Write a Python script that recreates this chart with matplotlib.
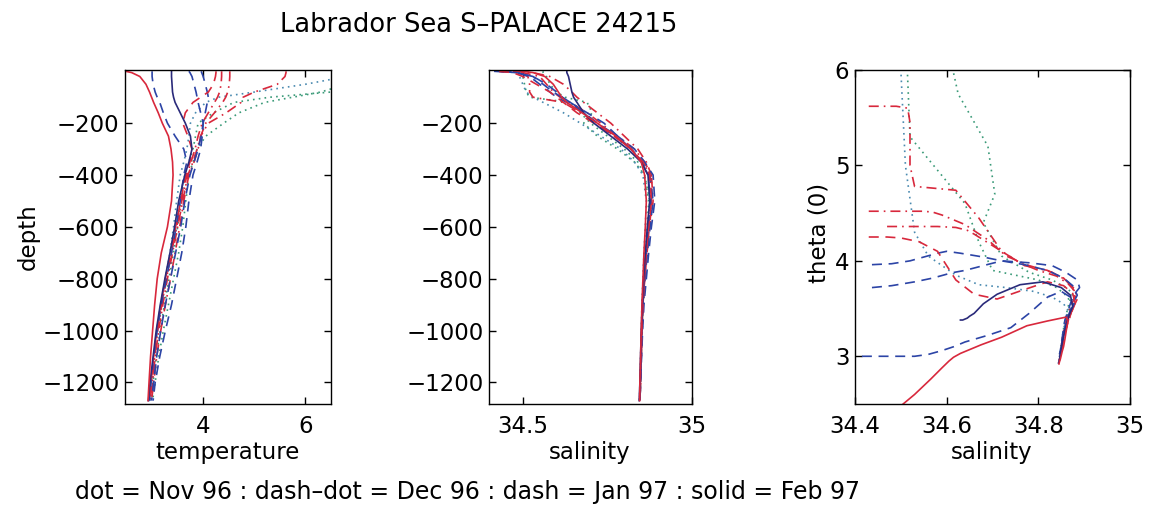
import matplotlib
matplotlib.use('Agg')
import matplotlib.pyplot as plt
from matplotlib.ticker import FuncFormatter

# ---------------- data ----------------
depth = [0, -5, -20, -50, -80, -100, -120, -160, -200, -250, -300, -350, -400,
         -500, -600, -700, -800, -900, -1000, -1100, -1200, -1270]

# Nov 96 (dotted)
temp_nov1 = [7.00, 7.00, 6.95, 6.80, 6.50, 5.30, 4.60, 4.20, 3.90, 3.85, 3.80, 3.72, 3.64,
             3.56, 3.50, 3.42, 3.33, 3.24, 3.16, 3.08, 3.02, 2.98]
sal_nov1 = [34.50, 34.50, 34.50, 34.505, 34.51, 34.52, 34.64, 34.67, 34.70, 34.75, 34.80, 34.84, 34.86,
            34.872, 34.868, 34.862, 34.858, 34.855, 34.852, 34.85, 34.848, 34.846]
temp_nov2 = [7.20, 7.20, 7.10, 6.80, 6.30, 5.75, 5.20, 4.70, 4.40, 4.05, 3.88, 3.80, 3.72,
             3.66, 3.60, 3.52, 3.42, 3.32, 3.22, 3.13, 3.06, 3.01]
sal_nov2 = [34.56, 34.56, 34.57, 34.58, 34.60, 34.625, 34.69, 34.705, 34.68, 34.72, 34.78, 34.83, 34.86,
            34.875, 34.87, 34.865, 34.86, 34.856, 34.853, 34.85, 34.848, 34.846]
temp_nov3 = [7.00, 7.00, 6.80, 6.00, 5.00, 4.30, 4.05, 3.85, 3.75, 3.72, 3.68, 3.62, 3.55,
             3.48, 3.42, 3.35, 3.26, 3.18, 3.10, 3.04, 2.99, 2.96]
sal_nov3 = [34.49, 34.49, 34.49, 34.50, 34.51, 34.53, 34.56, 34.62, 34.67, 34.73, 34.79, 34.83, 34.855,
            34.865, 34.862, 34.858, 34.855, 34.852, 34.85, 34.848, 34.846, 34.845]

# Dec 96 (dash-dot)
temp_dec1 = [5.62, 5.62, 5.60, 5.45, 5.00, 4.78, 4.74, 4.45, 4.10, 3.95, 3.90, 3.82, 3.72,
             3.62, 3.54, 3.45, 3.36, 3.26, 3.17, 3.09, 3.03, 2.99]
sal_dec1 = [34.43, 34.49, 34.515, 34.52, 34.52, 34.53, 34.62, 34.67, 34.72, 34.77, 34.82, 34.855, 34.875,
            34.88, 34.872, 34.865, 34.86, 34.855, 34.852, 34.85, 34.848, 34.846]
temp_dec2 = [4.52, 4.52, 4.52, 4.51, 4.48, 4.44, 4.38, 4.22, 4.05, 3.95, 3.88, 3.80, 3.70,
             3.60, 3.50, 3.40, 3.30, 3.21, 3.13, 3.06, 3.01, 2.97]
sal_dec2 = [34.43, 34.50, 34.55, 34.57, 34.59, 34.61, 34.64, 34.69, 34.73, 34.78, 34.83, 34.86, 34.88,
            34.885, 34.875, 34.867, 34.86, 34.855, 34.852, 34.85, 34.848, 34.846]
temp_dec3 = [4.36, 4.36, 4.36, 4.35, 4.32, 4.28, 4.22, 4.10, 3.98, 3.90, 3.84, 3.76, 3.68,
             3.58, 3.48, 3.38, 3.28, 3.19, 3.11, 3.05, 3.00, 2.96]
sal_dec3 = [34.47, 34.53, 34.58, 34.62, 34.645, 34.66, 34.68, 34.72, 34.76, 34.80, 34.84, 34.865, 34.88,
            34.882, 34.874, 34.866, 34.86, 34.855, 34.852, 34.85, 34.848, 34.846]

# Jan 97 (dash)
temp_jan1 = [3.00, 3.00, 3.00, 3.02, 3.06, 3.10, 3.15, 3.22, 3.30, 3.45, 3.62, 3.68, 3.62,
             3.55, 3.47, 3.38, 3.28, 3.18, 3.10, 3.03, 2.98, 2.95]
sal_jan1 = [34.415, 34.48, 34.53, 34.56, 34.59, 34.615, 34.64, 34.69, 34.74, 34.78, 34.82, 34.85, 34.87,
            34.878, 34.87, 34.864, 34.858, 34.854, 34.851, 34.849, 34.847, 34.845]
temp_jan2 = [3.72, 3.74, 3.78, 3.82, 3.86, 3.88, 3.90, 3.95, 4.00, 3.96, 3.90, 3.82, 3.74,
             3.64, 3.56, 3.46, 3.36, 3.26, 3.17, 3.09, 3.03, 2.99]
sal_jan2 = [34.437, 34.48, 34.53, 34.57, 34.60, 34.617, 34.64, 34.68, 34.72, 34.77, 34.82, 34.855, 34.875,
            34.885, 34.876, 34.868, 34.861, 34.856, 34.852, 34.85, 34.848, 34.846]
temp_jan3 = [3.96, 3.97, 4.00, 4.04, 4.08, 4.10, 4.08, 4.04, 4.00, 3.98, 3.95, 3.88, 3.80,
             3.72, 3.66, 3.58, 3.48, 3.38, 3.26, 3.15, 3.06, 3.02]
sal_jan3 = [34.437, 34.48, 34.52, 34.55, 34.58, 34.60, 34.63, 34.68, 34.72, 34.78, 34.83, 34.86, 34.885,
            34.89, 34.88, 34.872, 34.865, 34.858, 34.854, 34.851, 34.848, 34.846]
temp_jan4 = [4.25, 4.25, 4.24, 4.20, 4.10, 3.95, 3.80, 3.65, 3.60, 3.70, 3.78, 3.74, 3.66,
             3.56, 3.46, 3.36, 3.26, 3.17, 3.09, 3.03, 2.98, 2.95]
sal_jan4 = [34.43, 34.47, 34.50, 34.54, 34.58, 34.60, 34.62, 34.66, 34.71, 34.77, 34.82, 34.855, 34.875,
            34.88, 34.872, 34.865, 34.859, 34.855, 34.852, 34.849, 34.847, 34.845]

# Feb 97 (solid)
temp_feb1 = [2.48, 2.60, 2.76, 2.88, 2.95, 2.99, 3.03, 3.12, 3.20, 3.32, 3.37, 3.40, 3.41,
             3.38, 3.30, 3.18, 3.10, 3.05, 3.01, 2.97, 2.94, 2.92]
sal_feb1 = [34.50, 34.53, 34.565, 34.59, 34.605, 34.615, 34.63, 34.675, 34.72, 34.775, 34.82, 34.85, 34.86,
            34.865, 34.862, 34.858, 34.855, 34.852, 34.85, 34.848, 34.846, 34.845]
temp_feb2 = [3.38, 3.38, 3.38, 3.39, 3.40, 3.42, 3.45, 3.55, 3.65, 3.75, 3.78, 3.72, 3.64,
             3.52, 3.44, 3.35, 3.25, 3.16, 3.08, 3.02, 2.96, 2.93]
sal_feb2 = [34.63, 34.63, 34.635, 34.64, 34.645, 34.65, 34.66, 34.68, 34.71, 34.76, 34.81, 34.85, 34.87,
            34.875, 34.868, 34.862, 34.857, 34.853, 34.85, 34.848, 34.846, 34.844]

title = "Labrador Sea S\u2013PALACE 24215"
footer = "dot = Nov 96 : dash\u2013dot = Dec 96 : dash = Jan 97 : solid = Feb 97"

# ---------------- styles ----------------
RED = '#d8283c'
BLUE = '#2c44a6'
NAVY = '#2a2a7a'
GREEN = '#3a9a78'
DOT = (0, (1, 2.5))
DASHDOT = (0, (6, 3, 1, 3))
DASH = (0, (6, 4))

profiles = [
    (temp_nov1, sal_nov1, DOT, GREEN),
    (temp_nov2, sal_nov2, DOT, GREEN),
    (temp_nov3, sal_nov3, DOT, '#4a8ab0'),
    (temp_dec1, sal_dec1, DASHDOT, RED),
    (temp_dec2, sal_dec2, DASHDOT, RED),
    (temp_dec3, sal_dec3, DASHDOT, RED),
    (temp_jan1, sal_jan1, DASH, BLUE),
    (temp_jan2, sal_jan2, DASH, BLUE),
    (temp_jan3, sal_jan3, DASH, BLUE),
    (temp_jan4, sal_jan4, DASH, RED),
    (temp_feb2, sal_feb2, '-', NAVY),
    (temp_feb1, sal_feb1, '-', RED),
]

plt.rcParams['font.family'] = ['DejaVu Sans']
FS = 16.5

W, H = 1151, 531
fig = plt.figure(figsize=(W / 100, H / 100), dpi=100)


def ax_at(l, t, r, b):
    return fig.add_axes([l / W, 1 - b / H, (r - l) / W, (b - t) / H])


ax1 = ax_at(125, 70, 331, 404)
ax2 = ax_at(489, 70, 692, 404)
ax3 = ax_at(855, 70, 1130, 404)

for T, S, ls, c in profiles:
    ax1.plot(T, depth, linestyle=ls, color=c, lw=1.2)
    ax2.plot(S, depth, linestyle=ls, color=c, lw=1.2)
    ax3.plot(S, T, linestyle=ls, color=c, lw=1.2)

fmt = FuncFormatter(lambda v, p: f'{v:g}'.replace('-', '\u2212'))

ax1.set_xlim(2.47, 6.5)
ax1.set_xticks([4, 6])
ax2.set_xlim(34.4, 35.0)
ax2.set_xticks([34.5, 35])
for ax in (ax1, ax2):
    ax.set_ylim(-1283, 5)
    ax.set_yticks([-200, -400, -600, -800, -1000, -1200])
ax3.set_xlim(34.4, 35.0)
ax3.set_xticks([34.4, 34.6, 34.8, 35])
ax3.set_ylim(2.5, 6.0)
ax3.set_yticks([3, 4, 5, 6])

for ax in (ax1, ax2, ax3):
    ax.xaxis.set_major_formatter(fmt)
    ax.yaxis.set_major_formatter(fmt)
    ax.tick_params(direction='in', top=True, right=True, length=5, width=1,
                   labelsize=FS)
    ax.tick_params(axis='x', pad=8)
    ax.tick_params(axis='y', pad=4)
    for sp in ax.spines.values():
        sp.set_linewidth(1.0)

fig.text(479 / W, 1 - 25 / H, title, ha='center', va='center', fontsize=18.5)
fig.text(228 / W, 1 - 453 / H, 'temperature', ha='center', va='center', fontsize=FS)
fig.text(590 / W, 1 - 453 / H, 'salinity', ha='center', va='center', fontsize=FS)
fig.text(992 / W, 1 - 453 / H, 'salinity', ha='center', va='center', fontsize=FS)
fig.text(28 / W, 1 - 237 / H, 'depth', ha='center', va='center', rotation=90, fontsize=FS)
fig.text(819 / W, 1 - 233 / H, 'theta (0)', ha='center', va='center', rotation=90, fontsize=FS)
fig.text(75 / W, 1 - 492 / H, footer, ha='left', va='center', fontsize=17)

fig.savefig('out.png', dpi=100)
